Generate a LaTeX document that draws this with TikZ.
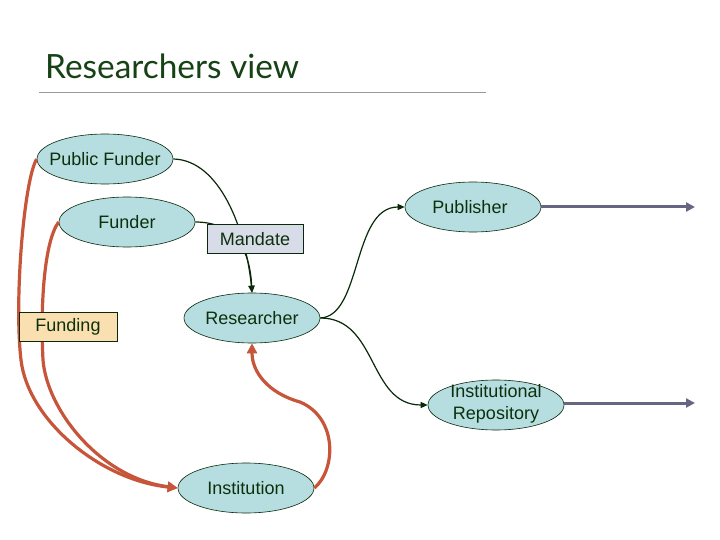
\documentclass[tikz,border=0pt]{standalone}
\usepackage{fontspec}
\setmainfont{Liberation Sans}
\newfontfamily\titlefont{Lato}
\usetikzlibrary{shapes.geometric,arrows.meta}
\definecolor{ellfill}{RGB}{182,222,224}
\definecolor{mandfill}{RGB}{216,219,232}
\definecolor{fundfill}{RGB}{250,224,176}
\definecolor{txtgreen}{RGB}{12,48,12}
\definecolor{titlegreen}{RGB}{22,66,22}
\definecolor{darkline}{RGB}{10,40,10}
\definecolor{redline}{RGB}{198,85,58}
\definecolor{grayline}{RGB}{102,102,128}
\definecolor{ruleline}{RGB}{150,156,156}
\begin{document}
\begin{tikzpicture}[x=1pt,y=-1pt,
  ell/.style={ellipse, draw=darkline, line width=0.6pt, fill=ellfill,
    minimum width=136pt, minimum height=50pt, inner sep=0pt},
  lab/.style={inner sep=0pt, text=txtgreen,
    font=\fontsize{18}{22}\selectfont, align=center},
  boxnode/.style={rectangle, draw=darkline, line width=0.6pt,
    minimum height=29pt, inner sep=0pt,
    text=txtgreen, font=\fontsize{18}{22}\selectfont},
  dg/.style={draw=darkline, line width=1.2pt, -{Triangle[length=7pt,width=6pt]}},
  rd/.style={draw=redline, line width=3.2pt, -{Triangle[length=10pt,width=10pt]}},
  gy/.style={draw=grayline, line width=3pt, -{Triangle[length=9pt,width=9pt]}}
]
\useasboundingbox (0,0) rectangle (720,540);
\fill[white] (0,0) rectangle (720,540);

\node[anchor=base west, text=titlegreen, inner sep=0pt,
  font=\titlefont\fontsize{33.4}{38}\selectfont] (title) at (45,79) {Researchers view};
\coordinate (rulea) at (39,93);
\coordinate (ruleb) at (486,93);
\draw[ruleline, line width=1pt] (rulea) -- (ruleb);

\node[ell] (pf) at (105,159) {};
\node[lab] (pflab) at (pf) {Public Funder};
\node[ell] (f) at (127,222) {};
\node[lab] (flab) at (f) {Funder};
\node[ell] (res) at (252,318) {};
\node[lab] (reslab) at (res) {Researcher};
\node[ell] (pub) at (473,207) {};
\node[lab] (publab) at ([xshift=-3pt]pub.center) {Publisher};
\node[ell] (ir) at (496,405) {};
\node[lab] (irlab) at ([yshift=1pt]ir.center) {Institutional\\Repository};
\node[ell] (inst) at (246,488) {};
\node[lab] (instlab) at (inst) {Institution};

% dark green connectors
\draw[dg] (pf.east) .. controls (220,160) and (246,230) .. (res.north);
\draw[dg] (f.east) .. controls (235,222) and (250,250) .. (res.north);
\draw[dg] (res.east) .. controls (362,316) and (352,207) .. (pub.west);
\draw[dg] (res.east) .. controls (378,318) and (368,405) .. (ir.west);

% red connectors
\draw[rd] (pf.west) .. controls (24,180) and (14,300) .. (21,360)
  .. controls (28,420) and (100,480) .. (inst.west);
\draw[rd] (f.west) .. controls (45,240) and (40,300) .. (43,360)
  .. controls (47,410) and (100,478) .. (inst.west);
\draw[rd] (inst.east) .. controls (336,470) and (338,418) .. (300,402)
  .. controls (268,393) and (252,372) .. (res.south);

% gray arrows
\coordinate (puboutend) at (695,207);
\coordinate (iroutend) at (695,403);
\draw[gy] (pub.east) -- (puboutend);
\draw[gy] (ir.east |- iroutend) -- (iroutend);

% boxes on top
\node[boxnode, fill=mandfill, minimum width=96pt] (mand) at (255,239) {Mandate};
\node[boxnode, fill=fundfill, minimum width=98pt] (fund) at (68,327) {Funding};
\end{tikzpicture}
\end{document}
